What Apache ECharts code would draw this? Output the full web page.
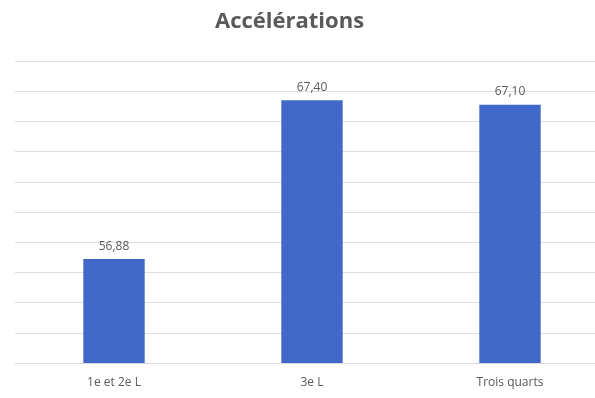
<!DOCTYPE html>
<html>
<head>
<meta charset="utf-8">
<script src="https://cdn.jsdelivr.net/npm/echarts@6/dist/echarts.min.js"></script>
<style>
  html, body { margin: 0; padding: 0; background: #fff; overflow: hidden; width: 595px; height: 398px; }
  #chart { width: 609px; height: 398px; }
</style>
</head>
<body>
<div id="chart"></div>
<script>
const categories = ['1e et 2e L', '3e L', 'Trois quarts'];
const values = [56.88, 67.40, 67.10];
const yMin = 50;
const yMax = 70;
const yStep = 2;

const chart = echarts.init(document.getElementById('chart'));
chart.setOption({
  animation: false,
  backgroundColor: '#ffffff',
  title: {
    text: 'Accélérations',
    left: 210,
    top: 6,
    textStyle: { fontFamily: 'Open Sans', fontSize: 22, fontWeight: 'bold', color: '#595959' }
  },
  grid: { left: 15, right: 0, top: 61, bottom: 35 },
  xAxis: {
    type: 'category',
    data: categories,
    axisLine: { show: true, lineStyle: { color: '#d9d9d9' } },
    axisTick: { show: false },
    axisLabel: { fontFamily: 'Open Sans', fontSize: 12, color: '#595959', margin: 14 }
  },
  yAxis: {
    type: 'value',
    min: yMin,
    max: yMax,
    interval: yStep,
    axisLabel: { show: false },
    axisLine: { show: false },
    axisTick: { show: false },
    splitLine: { lineStyle: { color: '#dedede', width: 1 } }
  },
  series: [{
    type: 'bar',
    data: values,
    barWidth: '31%',
    itemStyle: { color: '#4068c8' },
    label: {
      show: true,
      position: 'top',
      distance: 7,
      fontFamily: 'Open Sans',
      fontSize: 12,
      color: '#595959',
      formatter: p => p.value.toFixed(2).replace('.', ',')
    }
  }]
});
</script>
</body>
</html>
